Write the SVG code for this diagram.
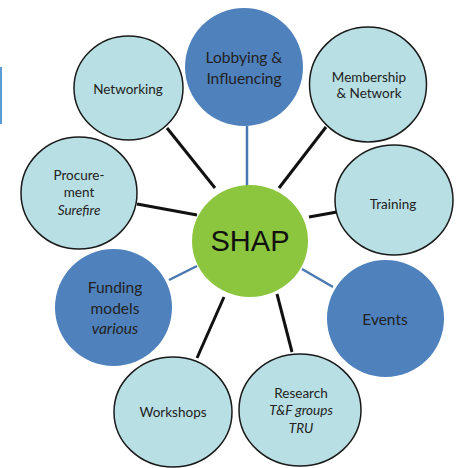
<svg xmlns="http://www.w3.org/2000/svg" width="460" height="468" viewBox="0 0 460 468">
<style>
.lt{fill:#b8dfe3;stroke:#1a1a1a;stroke-width:1.5}
.dk{fill:#4f81bd;stroke:none}
.c{fill:#8cc63e}
.cb{stroke:#111;stroke-width:3;stroke-linecap:butt}
.cu{stroke:#4a78b0;stroke-width:2.5}
text{font-family:Lato,"Open Sans","Liberation Sans",sans-serif;fill:#222;text-anchor:middle}
.s13{font-size:13.5px}
.s15{font-size:15.5px}
.i{font-style:italic}
</style>
<rect width="460" height="468" fill="#fff"/>
<rect x="0" y="67" width="2" height="57" fill="#5b9bd5"/>
<g id="connectors">
<line class="cb" x1="167" y1="128" x2="215" y2="188"/>
<line class="cb" x1="137" y1="204" x2="197" y2="215"/>
<line class="cb" x1="326" y1="127" x2="279" y2="188"/>
<line class="cb" x1="309" y1="217" x2="337" y2="212"/>
<line class="cu" x1="247" y1="126" x2="247" y2="186"/>
<line class="cu" x1="169" y1="280" x2="197" y2="266"/>
<line class="cu" x1="302" y1="269" x2="333" y2="287"/>
<line class="cb" x1="224" y1="297" x2="197" y2="358"/>
<line class="cb" x1="277" y1="294" x2="292" y2="352"/>
</g>
<g id="shap">
<ellipse class="c" cx="250" cy="241" rx="58" ry="56"/>
<text x="250" y="251" style="font-family:'Liberation Sans',Arial,sans-serif;font-size:29px;fill:#111">SHAP</text>
</g>
<g id="networking">
<ellipse class="lt" cx="128.5" cy="88" rx="54.5" ry="52"/>
<text class="s13" x="128" y="94">Networking</text>
</g>
<g id="lobbying">
<ellipse class="dk" cx="244" cy="67" rx="59" ry="59"/>
<text class="s15" x="244" y="63">Lobbying &amp;</text>
<text class="s15" x="244" y="84">Influencing</text>
</g>
<g id="membership">
<ellipse class="lt" cx="368" cy="84.5" rx="58.5" ry="57.5"/>
<text class="s13" x="369" y="82">Membership</text>
<text class="s13" x="369" y="98">&amp; Network</text>
</g>
<g id="training">
<ellipse class="lt" cx="394" cy="200" rx="59" ry="55"/>
<text class="s13" x="393" y="209">Training</text>
</g>
<g id="procurement">
<ellipse class="lt" cx="79" cy="193" rx="58" ry="56"/>
<text class="s13" x="79" y="180">Procure-</text>
<text class="s13" x="79" y="197">ment</text>
<text class="s13 i" x="79" y="215">Surefire</text>
</g>
<g id="funding">
<ellipse class="dk" cx="113.5" cy="307.5" rx="58.5" ry="58.5"/>
<text class="s15" x="115" y="293">Funding</text>
<text class="s15" x="115" y="314">models</text>
<text class="s15 i" x="115" y="334">various</text>
</g>
<g id="events">
<ellipse class="dk" cx="385.5" cy="318.5" rx="58.5" ry="58.5"/>
<text class="s15" x="385" y="325">Events</text>
</g>
<g id="workshops">
<ellipse class="lt" cx="173" cy="412" rx="59" ry="55"/>
<text class="s13" x="173" y="417">Workshops</text>
</g>
<g id="research">
<ellipse class="lt" cx="300" cy="410" rx="61" ry="56"/>
<text class="s13" x="301" y="398">Research</text>
<text class="s13 i" x="301" y="415">T&amp;F groups</text>
<text class="s13 i" x="301" y="433">TRU</text>
</g>
</svg>
